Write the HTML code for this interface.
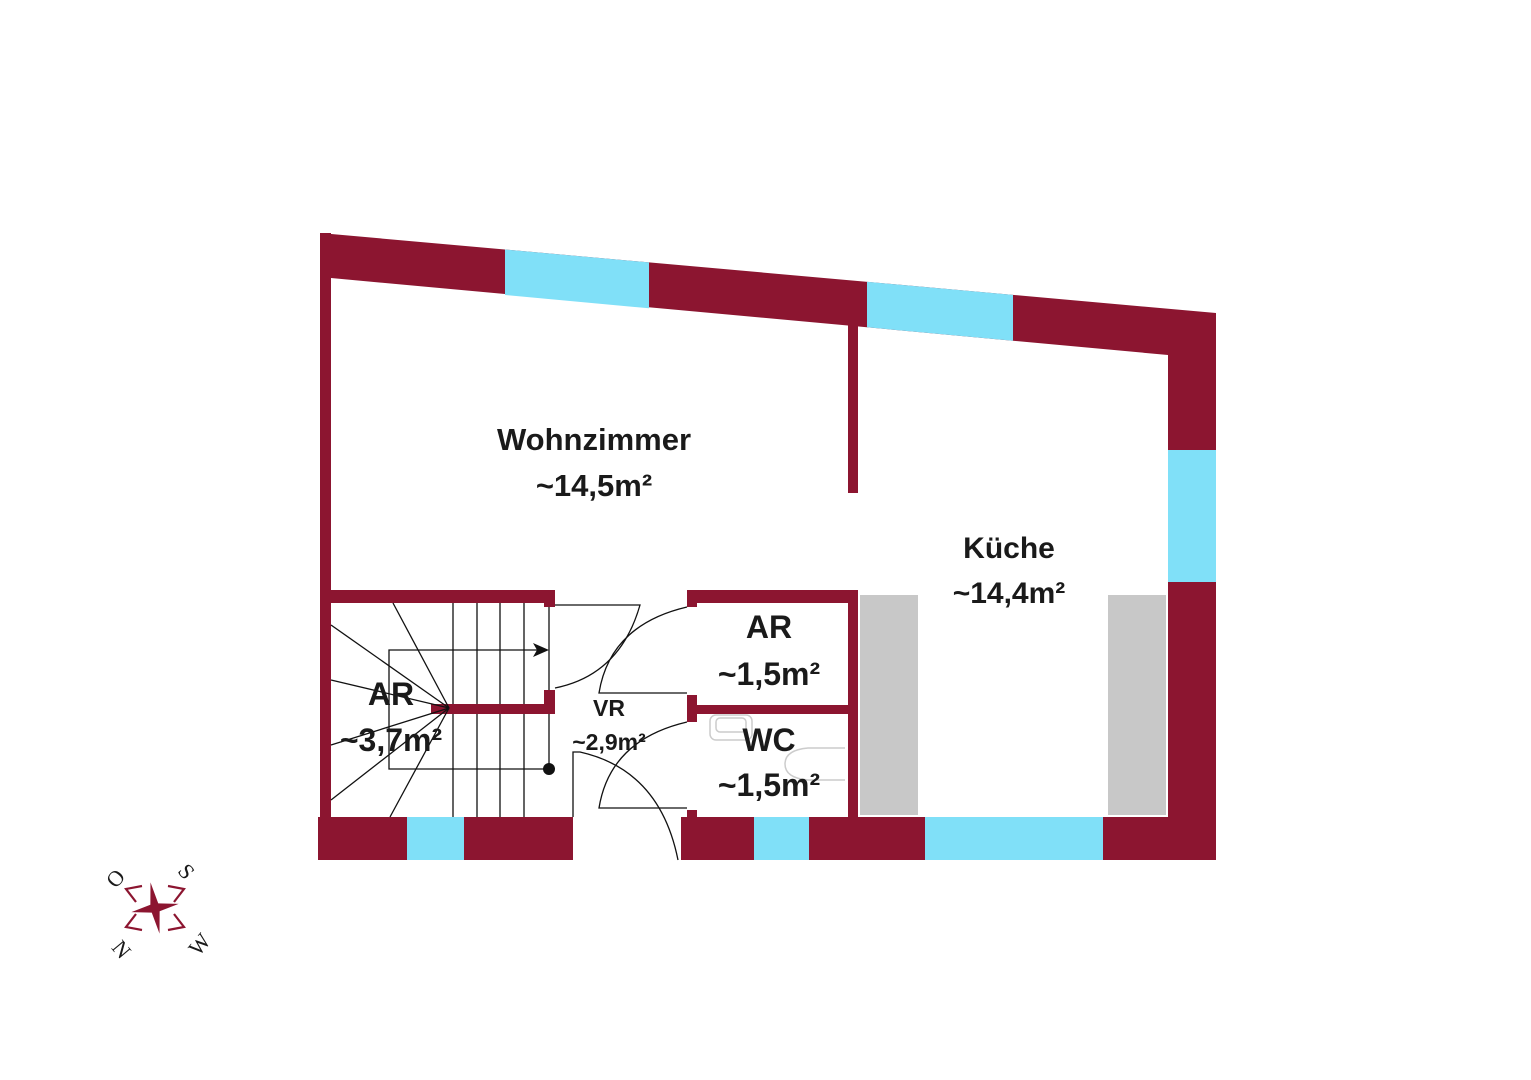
<!DOCTYPE html>
<html><head><meta charset="utf-8"><style>
html,body{margin:0;padding:0;background:#fff;}
svg{display:block}
text{font-family:"Liberation Sans","DejaVu Sans",sans-serif;font-weight:bold;fill:#1a1a1a;text-anchor:middle}
</style></head><body>
<svg width="1531" height="1080" viewBox="0 0 1531 1080" xmlns="http://www.w3.org/2000/svg">
<rect width="1531" height="1080" fill="#fff"/>
<g fill="#8c1530">
<polygon points="320,233 1216,313 1216,450 1168,450 1168,355 331,278"/>
<rect x="320" y="233" width="11" height="627"/>
<rect x="1168" y="582" width="48" height="278"/>
<rect x="318" y="817" width="255" height="43"/>
<rect x="681" y="817" width="535" height="43"/>
<rect x="848" y="320" width="10" height="173"/>
<rect x="320" y="590" width="235" height="13"/>
<rect x="544" y="590" width="11" height="17"/>
<rect x="544" y="690" width="11" height="24"/>
<rect x="431" y="704" width="124" height="10"/>
<rect x="687" y="590" width="171" height="13"/>
<rect x="687" y="590" width="10" height="17"/>
<rect x="687" y="705" width="171" height="9"/>
<rect x="687" y="695" width="10" height="27"/>
<rect x="687" y="810" width="10" height="8"/>
<rect x="848" y="590" width="10" height="227"/>
</g>
<g fill="#80e0f8">
<polygon points="505,249.5 649,262.4 649,308.3 505,295"/>
<polygon points="867,281.8 1013,294.9 1013,340.7 867,327.3"/>
<rect x="1168" y="450" width="48" height="132"/>
<rect x="407" y="817" width="57" height="43"/>
<rect x="754" y="817" width="55" height="43"/>
<rect x="925" y="817" width="178" height="43"/>
</g>
<g fill="#c8c8c8">
<rect x="860" y="595" width="58" height="220"/>
<rect x="1108" y="595" width="58" height="220"/>
</g>
<g stroke="#111" stroke-width="1.3" fill="none">
<line x1="453" y1="603" x2="453" y2="704"/><line x1="453" y1="714" x2="453" y2="817"/>
<line x1="477" y1="603" x2="477" y2="704"/><line x1="477" y1="714" x2="477" y2="817"/>
<line x1="500" y1="603" x2="500" y2="704"/><line x1="500" y1="714" x2="500" y2="817"/>
<line x1="524" y1="603" x2="524" y2="704"/><line x1="524" y1="714" x2="524" y2="817"/>
<line x1="549" y1="607" x2="549" y2="690"/><line x1="549" y1="714" x2="549" y2="769"/>
<polyline points="540,650 389,650 389,769 549,769"/>
<line x1="449" y1="708" x2="393" y2="603"/>
<line x1="449" y1="708" x2="331" y2="625"/>
<line x1="449" y1="708" x2="331" y2="680"/>
<line x1="449" y1="708" x2="331" y2="745"/>
<line x1="449" y1="708" x2="331" y2="800"/>
<line x1="449" y1="708" x2="390" y2="817"/>
<path d="M555,605 L640,605 Q620,675 555,688"/>
<path d="M687,607 Q610,625 599,693 L687,693"/>
<path d="M687,722 Q610,740 599,808 L687,808"/>
<path d="M573,817 L573,752 L580,752 Q660,770 678,860"/>
</g>
<polygon points="549,650 533,643 537,650 533,657" fill="#111"/>
<circle cx="549" cy="769" r="6" fill="#111"/>
<g stroke="#ccc" stroke-width="1.5" fill="none">
<rect x="710" y="715" width="42" height="25" rx="6"/>
<rect x="716" y="718" width="30" height="14" rx="4"/>
<path d="M845,748 L808,748 Q785,750 785,764 Q785,778 808,780 L845,780"/>
</g>
<text x="594" y="450" font-size="31">Wohnzimmer</text>
<text x="594" y="496" font-size="31">~14,5m²</text>
<text x="1009" y="558" font-size="30">Küche</text>
<text x="1009" y="603" font-size="30">~14,4m²</text>
<text x="769" y="638" font-size="32">AR</text>
<text x="769" y="685" font-size="32">~1,5m²</text>
<text x="769" y="751" font-size="32">WC</text>
<text x="769" y="796" font-size="32">~1,5m²</text>
<text x="391" y="705" font-size="32">AR</text>
<text x="391" y="751" font-size="32">~3,7m²</text>
<text x="609" y="716" font-size="23">VR</text>
<text x="609" y="750" font-size="23">~2,9m²</text>
<!-- compass -->
<g transform="translate(155,908) rotate(-10)" fill="#8c1530">
<polygon points="0,-26 4,-4 24,0 4,4 0,26 -4,4 -24,0 -4,-4"/>
</g>
<g stroke="#8c1530" stroke-width="2.2" fill="none">
<polyline points="142,886 126,889 136,902"/>
<polyline points="168,886 184,889 174,902"/>
<polyline points="142,930 126,927 136,914"/>
<polyline points="168,930 184,927 174,914"/>
</g>
<g font-size="22">
<text x="115" y="886" transform="rotate(-50 115 878)" fill="#8c1530" style="font-family:'Liberation Serif',serif;font-weight:normal">O</text>
<text x="187" y="879" transform="rotate(50 187 871)" fill="#8c1530" style="font-family:'Liberation Serif',serif;font-weight:normal">S</text>
<text x="122" y="957" transform="rotate(50 122 949)" fill="#8c1530" style="font-family:'Liberation Serif',serif;font-weight:normal">N</text>
<text x="199" y="952" transform="rotate(-50 199 944)" fill="#8c1530" style="font-family:'Liberation Serif',serif;font-weight:normal">W</text>
</g>
</svg>
</body></html>
